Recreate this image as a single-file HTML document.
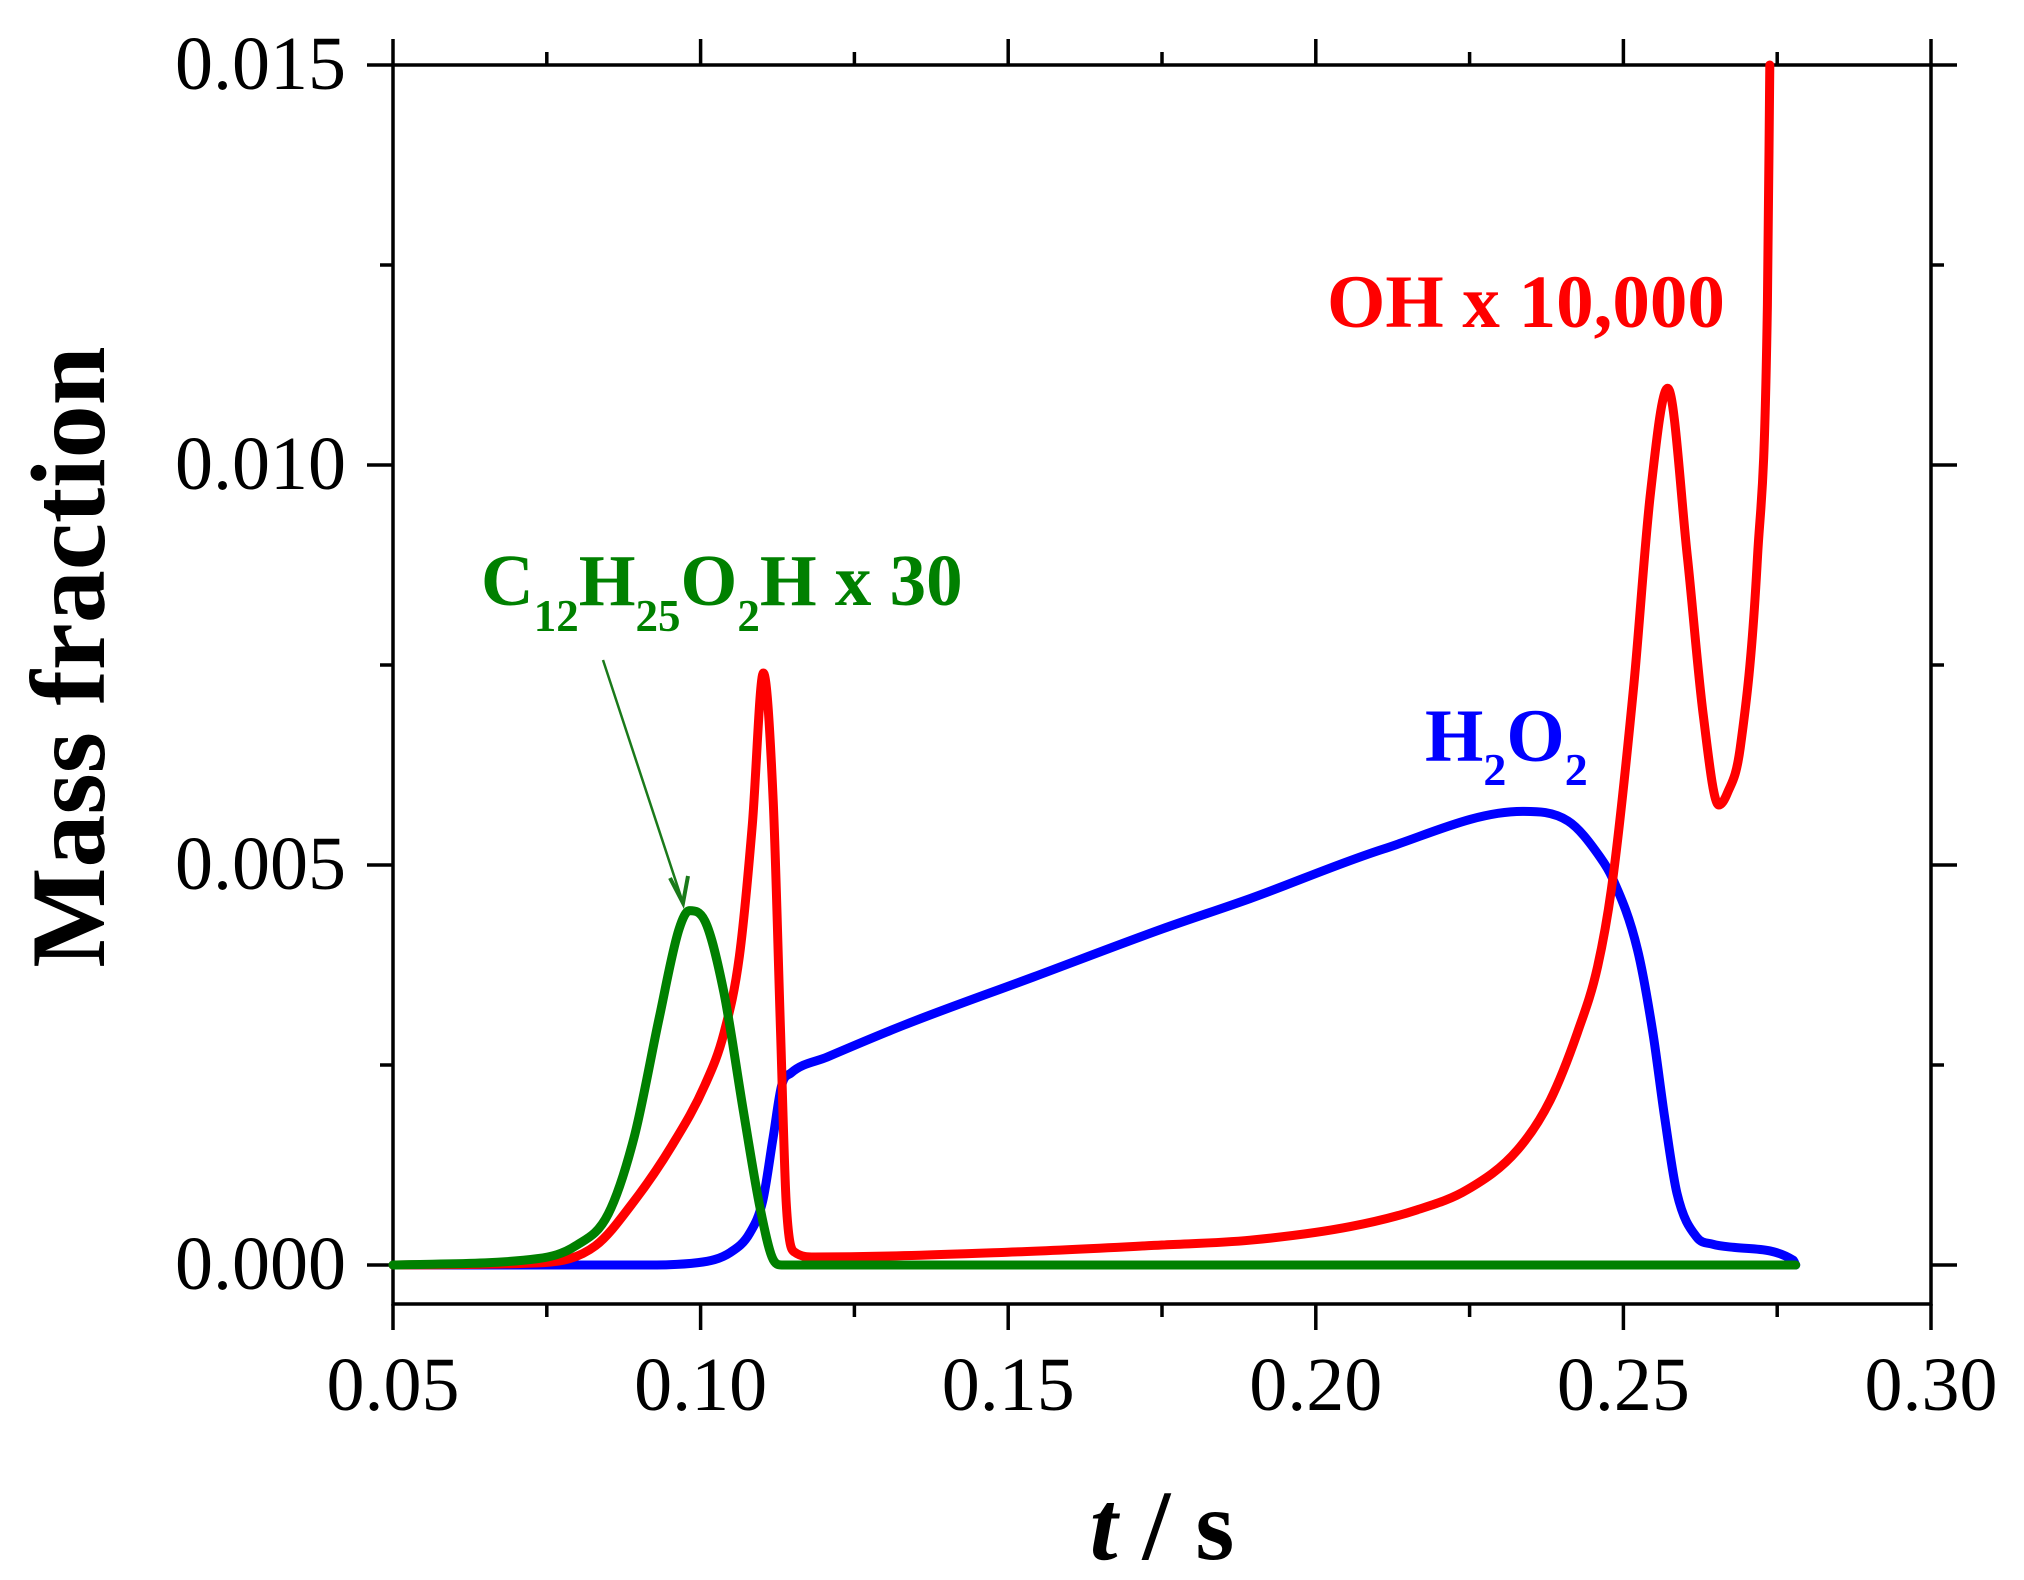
<!DOCTYPE html>
<html><head><meta charset="utf-8"><style>
html,body{margin:0;padding:0;background:#fff;}
svg{display:block;}
text{font-family:"Liberation Serif",serif;}
</style></head><body>
<svg id="chart" width="2024" height="1580" viewBox="0 0 2024 1580" xmlns="http://www.w3.org/2000/svg">
<g id="axes"></g>
<g id="series"></g>
<text transform="translate(104,657) rotate(-90)" text-anchor="middle" font-size="106" font-weight="bold">Mass fraction</text>
<text x="1162" y="1559" text-anchor="middle" font-size="100" font-weight="bold"><tspan font-style="italic">t</tspan> / s</text>
<text x="1327" y="327" font-size="75" font-weight="bold" fill="#ff0000">OH x 10,000</text>
<text x="1425" y="761" font-size="75" font-weight="bold" fill="#0000ff">H<tspan font-size="46" dy="24">2</tspan><tspan dy="-24">O</tspan><tspan font-size="46" dy="24">2</tspan></text>
<text x="481" y="605" font-size="73" font-weight="bold" fill="#008000">C<tspan font-size="45" dy="26">12</tspan><tspan dy="-26">H</tspan><tspan font-size="45" dy="26">25</tspan><tspan dy="-26">O</tspan><tspan font-size="45" dy="26">2</tspan><tspan dy="-26">H x 30</tspan></text>
<g stroke="#1a7a1a" fill="none" stroke-width="2.5">
<line x1="603" y1="660" x2="683" y2="903"/>
<polyline points="670,878 683,903 688,876" stroke-width="4"/>
</g>
</svg>
<script>
const xTicks = [0.05, 0.10, 0.15, 0.20, 0.25, 0.30];
const xTickLabels = ["0.05", "0.10", "0.15", "0.20", "0.25", "0.30"];
const yTicks = [0, 0.005, 0.010, 0.015];
const yTickLabels = ["0.000", "0.005", "0.010", "0.015"];
const ohT = [0.05,0.0745,0.0829,0.0892,0.0954,0.1007,0.1038,0.1063,0.1084,0.1102,0.1118,0.113,0.1139,0.1153,0.1185,0.1499,0.175,0.1893,0.2056,0.2165,0.2246,0.2328,0.2381,0.2425,0.2458,0.2482,0.2517,0.2544,0.2572,0.2604,0.263,0.2655,0.2669,0.269,0.2718,0.2734,0.2738];
const ohV = [0,0.00003,0.00024,0.0008,0.0015,0.00225,0.0029,0.00386,0.0055,0.0074,0.0058,0.0029,0.0008,0.00016,0.0001,0.00016,0.00025,0.00031,0.00048,0.00069,0.00094,0.00144,0.00206,0.0029,0.00373,0.00478,0.00726,0.00965,0.01096,0.00885,0.00686,0.00575,0.0059,0.00647,0.00885,0.012,0.015];
const h2o2T = [0.05,0.09,0.0996,0.1049,0.108,0.1101,0.1118,0.1132,0.1147,0.1206,0.1331,0.1541,0.175,0.1893,0.211,0.2336,0.241,0.2462,0.2482,0.2523,0.2548,0.2567,0.2587,0.2619,0.2645,0.268,0.2776,0.278];
const h2o2V = [0,0,0.00003,0.00016,0.0004,0.0008,0.0016,0.00225,0.0024,0.0026,0.003,0.0036,0.0042,0.00458,0.0052,0.00567,0.00555,0.0051,0.00484,0.00394,0.0029,0.00185,0.0009,0.00035,0.00026,0.00022,0.00006,0];
const c12T = [0.05,0.0735,0.0797,0.085,0.0892,0.0933,0.0965,0.0982,0.1007,0.1038,0.107,0.1097,0.1116,0.1132,0.278];
const c12V = [0,0.00008,0.00024,0.00064,0.0016,0.0031,0.0042,0.00443,0.0043,0.0034,0.0019,0.0007,0.0001,0,0];

const L=393,R=1931,T=65,B=1304;
const xMin=0.05,xMax=0.30,yMax=0.015;
function sx(t){return L+(t-xMin)/(xMax-xMin)*(R-L);}
function sy(v){return 1265-(v/yMax)*(1265-T);}
const NS="http://www.w3.org/2000/svg";
const axes=document.getElementById('axes');
const series=document.getElementById('series');
function mk(tag,attrs,parent){const e=document.createElementNS(NS,tag);for(const k in attrs)e.setAttribute(k,attrs[k]);parent.appendChild(e);return e;}

const frame=mk('rect',{x:L,y:T,width:R-L,height:B-T,fill:'none',stroke:'#000','stroke-width':3.5},axes);



for(let t=0.05;t<=0.3001;t+=0.025){
  const major=Math.abs(Math.round(t/0.05)*0.05-t)<1e-6;
  const len=major?26:13;const x=sx(t);
  const b=mk('line',{x1:x,y1:B,x2:x,y2:B+len,stroke:'#000','stroke-width':3.5},axes);
  
  
  const tp=mk('line',{x1:x,y1:T,x2:x,y2:T-len,stroke:'#000','stroke-width':3.5},axes);
  
  
}
for(let v=0;v<=0.01501;v+=0.0025){
  const major=Math.abs(Math.round(v/0.005)*0.005-v)<1e-7;
  const len=major?26:13;const y=sy(v);
  const l=mk('line',{x1:L,y1:y,x2:L-len,y2:y,stroke:'#000','stroke-width':3.5},axes);
  
  
  const r=mk('line',{x1:R,y1:y,x2:R+len,y2:y,stroke:'#000','stroke-width':3.5},axes);
  
  
}
xTicks.forEach((t,i)=>{
  const e=mk('text',{x:sx(t),y:1410,'text-anchor':'middle','font-size':76},axes);
  e.textContent=xTickLabels[i];
  
  
});
yTicks.forEach((v,i)=>{
  const e=mk('text',{x:346,y:sy(v)+24,'text-anchor':'end','font-size':76},axes);
  e.textContent=yTickLabels[i];
  
  
});
function monoPath(xs,ys){
  const n=xs.length,d=[],m=new Array(n);
  for(let i=0;i<n-1;i++)d.push((ys[i+1]-ys[i])/(xs[i+1]-xs[i]));
  m[0]=d[0];m[n-1]=d[n-2];
  for(let i=1;i<n-1;i++){m[i]=(d[i-1]*d[i]<=0)?0:(d[i-1]+d[i])/2;}
  for(let i=0;i<n-1;i++){
    if(d[i]===0){m[i]=0;m[i+1]=0;continue;}
    const a=m[i]/d[i],b=m[i+1]/d[i],s=a*a+b*b;
    if(s>9){const tt=3/Math.sqrt(s);m[i]=tt*a*d[i];m[i+1]=tt*b*d[i];}
  }
  let p='M'+xs[0].toFixed(1)+','+ys[0].toFixed(1);
  for(let i=0;i<n-1;i++){
    const h=(xs[i+1]-xs[i])/3;
    p+=' C'+(xs[i]+h).toFixed(1)+','+(ys[i]+m[i]*h).toFixed(1)+' '+(xs[i+1]-h).toFixed(1)+','+(ys[i+1]-m[i+1]*h).toFixed(1)+' '+xs[i+1].toFixed(1)+','+ys[i+1].toFixed(1);
  }
  return p;
}
function line(ts,vs,color,name){
  const d=monoPath(ts.map(sx),vs.map(sy));
  const p=mk('path',{d:d,fill:'none',stroke:color,'stroke-width':9,'stroke-linejoin':'round','stroke-linecap':'round'},series);
  
  
}
line(h2o2T,h2o2V,'#0000ff','h2o2-line');
line(ohT,ohV,'#ff0000','oh-line');
line(c12T,c12V,'#008000','c12h25o2h-line');
</script>
</body></html>
